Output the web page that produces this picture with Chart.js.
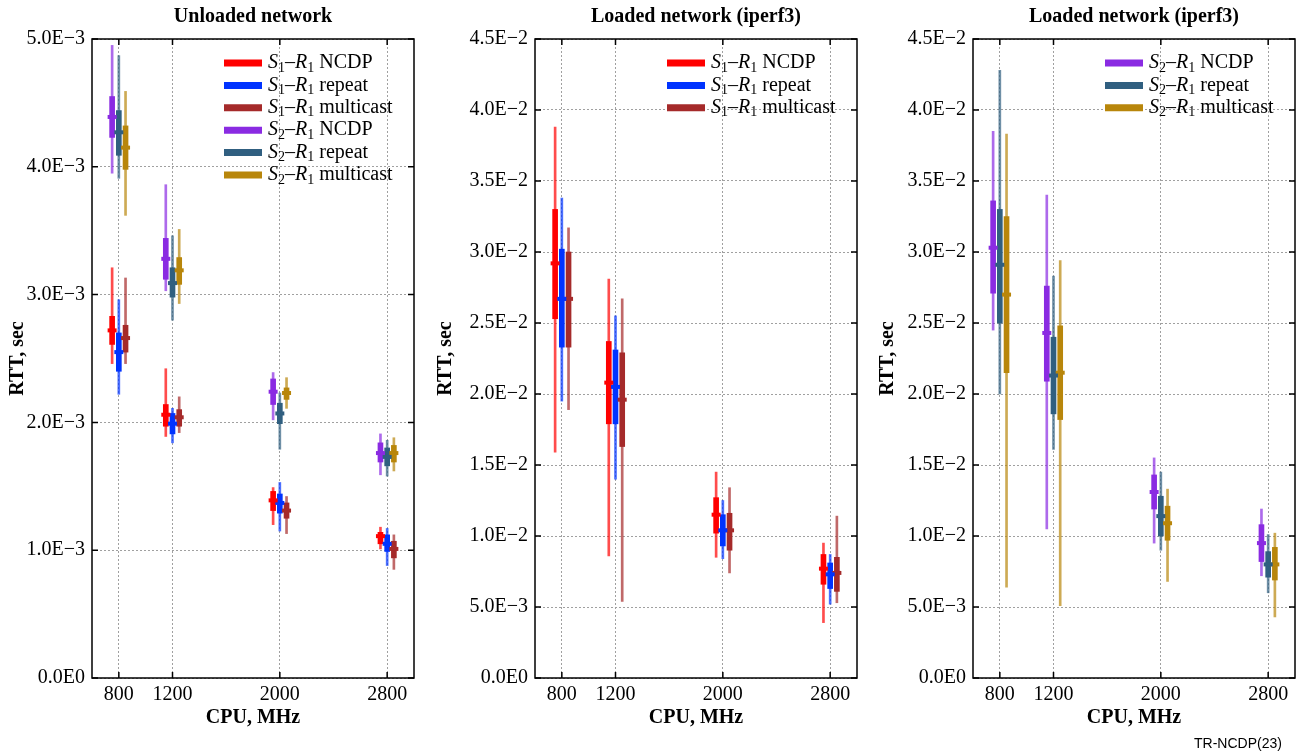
<!DOCTYPE html>
<html>
<head>
<meta charset="utf-8">
<title>RTT vs CPU</title>
<script src="https://cdn.jsdelivr.net/npm/chart.js@4.4.1/dist/chart.umd.min.js"></script>
<style>
body { margin: 0; background: #fff; width: 1309px; height: 755px; overflow: hidden; position: relative; }
.panel { position: absolute; top: 0; height: 755px; }
#note { position: absolute; left: 1194px; top: 735px; font: 14px "Liberation Sans", Arial, sans-serif; color: #000; }
</style>
</head>
<body>
<div class="panel" style="left:0;width:440px"><canvas id="c1"></canvas></div>
<div class="panel" style="left:428px;width:452px"><canvas id="c2"></canvas></div>
<div class="panel" style="left:870px;width:439px"><canvas id="c3"></canvas></div>
<div id="note">TR-NCDP(23)</div>
<script>
var cpu = [800, 1200, 2000, 2800];

// each row: [min, q1, median, q3, max] in sec, for 800 / 1200 / 2000 / 2800 MHz
// unloaded network
var unS1Ncdp = [[2.46e-3, 2.61e-3, 2.72e-3, 2.83e-3, 3.21e-3], [1.89e-3, 1.97e-3, 2.06e-3, 2.14e-3, 2.42e-3], [1.20e-3, 1.31e-3, 1.39e-3, 1.46e-3, 1.49e-3], [1.01e-3, 1.05e-3, 1.11e-3, 1.14e-3, 1.18e-3]];
var unS1Repeat = [[2.22e-3, 2.40e-3, 2.55e-3, 2.70e-3, 2.96e-3], [1.84e-3, 1.91e-3, 1.99e-3, 2.07e-3, 2.11e-3], [1.15e-3, 1.29e-3, 1.37e-3, 1.44e-3, 1.53e-3], [0.88e-3, 0.99e-3, 1.05e-3, 1.12e-3, 1.17e-3]];
var unS1Multicast = [[2.46e-3, 2.55e-3, 2.66e-3, 2.76e-3, 3.13e-3], [1.92e-3, 1.97e-3, 2.04e-3, 2.10e-3, 2.20e-3], [1.13e-3, 1.25e-3, 1.31e-3, 1.37e-3, 1.42e-3], [0.85e-3, 0.94e-3, 1.01e-3, 1.07e-3, 1.12e-3]];
var unS2Ncdp = [[3.95e-3, 4.23e-3, 4.39e-3, 4.55e-3, 4.95e-3], [3.03e-3, 3.12e-3, 3.28e-3, 3.44e-3, 3.86e-3], [2.02e-3, 2.14e-3, 2.24e-3, 2.34e-3, 2.39e-3], [1.59e-3, 1.69e-3, 1.76e-3, 1.84e-3, 1.91e-3]];
var unS2Repeat = [[3.91e-3, 4.09e-3, 4.27e-3, 4.44e-3, 4.87e-3], [2.80e-3, 2.98e-3, 3.09e-3, 3.21e-3, 3.46e-3], [1.79e-3, 1.99e-3, 2.07e-3, 2.15e-3, 2.23e-3], [1.58e-3, 1.66e-3, 1.73e-3, 1.80e-3, 1.86e-3]];
var unS2Multicast = [[3.62e-3, 3.98e-3, 4.15e-3, 4.32e-3, 4.59e-3], [2.93e-3, 3.08e-3, 3.19e-3, 3.29e-3, 3.51e-3], [2.11e-3, 2.18e-3, 2.23e-3, 2.27e-3, 2.35e-3], [1.62e-3, 1.69e-3, 1.76e-3, 1.82e-3, 1.88e-3]];
// loaded network (iperf3)
var ldS1Ncdp = [[1.59e-2, 2.53e-2, 2.92e-2, 3.30e-2, 3.88e-2], [0.86e-2, 1.79e-2, 2.08e-2, 2.37e-2, 2.81e-2], [0.85e-2, 1.02e-2, 1.15e-2, 1.27e-2, 1.45e-2], [0.39e-2, 0.66e-2, 0.77e-2, 0.87e-2, 0.95e-2]];
var ldS1Repeat = [[1.95e-2, 2.33e-2, 2.67e-2, 3.02e-2, 3.38e-2], [1.40e-2, 1.79e-2, 2.05e-2, 2.31e-2, 2.55e-2], [0.84e-2, 0.93e-2, 1.04e-2, 1.15e-2, 1.25e-2], [0.52e-2, 0.63e-2, 0.73e-2, 0.81e-2, 0.87e-2]];
var ldS1Multicast = [[1.89e-2, 2.33e-2, 2.67e-2, 3.00e-2, 3.17e-2], [0.54e-2, 1.63e-2, 1.96e-2, 2.29e-2, 2.67e-2], [0.74e-2, 0.90e-2, 1.04e-2, 1.16e-2, 1.34e-2], [0.53e-2, 0.61e-2, 0.74e-2, 0.85e-2, 1.14e-2]];
var ldS2Ncdp = [[2.45e-2, 2.71e-2, 3.03e-2, 3.36e-2, 3.85e-2], [1.05e-2, 2.09e-2, 2.43e-2, 2.76e-2, 3.40e-2], [0.95e-2, 1.19e-2, 1.31e-2, 1.43e-2, 1.55e-2], [0.72e-2, 0.82e-2, 0.95e-2, 1.08e-2, 1.19e-2]];
var ldS2Repeat = [[2.00e-2, 2.50e-2, 2.91e-2, 3.30e-2, 4.28e-2], [1.61e-2, 1.86e-2, 2.13e-2, 2.40e-2, 2.83e-2], [0.90e-2, 1.00e-2, 1.14e-2, 1.28e-2, 1.45e-2], [0.60e-2, 0.71e-2, 0.80e-2, 0.89e-2, 1.01e-2]];
var ldS2Multicast = [[0.64e-2, 2.15e-2, 2.70e-2, 3.25e-2, 3.83e-2], [0.51e-2, 1.82e-2, 2.15e-2, 2.48e-2, 2.94e-2], [0.68e-2, 0.97e-2, 1.09e-2, 1.21e-2, 1.33e-2], [0.43e-2, 0.69e-2, 0.80e-2, 0.92e-2, 1.02e-2]];

Chart.defaults.font.family = '"Liberation Serif", "Times New Roman", serif';
Chart.defaults.color = '#000';

var RED = '#ff0000', BLUE = '#0033ff', BROWN = '#a52a2a';
var PURPLE = '#8a2be2', SLATE = '#305f80', GOLD = '#b8860b';

function fade(hex, a) {
    var n = parseInt(hex.slice(1), 16);
    return 'rgba(' + (n >> 16) + ',' + ((n >> 8) & 255) + ',' + (n & 255) + ',' + a + ')';
}

function sciTick(v) {
    return v.toExponential(1).replace('e', 'E').replace('+', '').replace('-', '\u2212');
}

// S_x–R_1 label with italic letters and subscripts
function drawLabel(ctx, x, y, s) {
    var parts = [['S', 'italic 20px', 0], [s.src, '14px', 5], ['\u2013', '20px', 0],
                 ['R', 'italic 20px', 0], ['1', '14px', 5], [' ' + s.kind, '20px', 0]];
    parts.forEach(function (p) {
        ctx.font = p[1] + ' "Liberation Serif"';
        ctx.fillText(p[0], x, y + p[2]);
        x += ctx.measureText(p[0]).width;
    });
}

function makeDecor(title, series) {
    return {
        id: 'decor',
        afterDraw: function (chart) {
            var ctx = chart.ctx, a = chart.chartArea, sx = chart.scales.x, sy = chart.scales.y;
            ctx.save();
            ctx.strokeStyle = '#000';
            ctx.lineWidth = 1.5;
            ctx.strokeRect(a.left, a.top, a.right - a.left, a.bottom - a.top);
            ctx.beginPath();
            sy.ticks.forEach(function (t) {
                var y = sy.getPixelForValue(t.value);
                ctx.moveTo(a.left, y); ctx.lineTo(a.left + 6, y);
                ctx.moveTo(a.right, y); ctx.lineTo(a.right - 6, y);
            });
            sx.ticks.forEach(function (t) {
                var x = sx.getPixelForValue(t.value);
                ctx.moveTo(x, a.bottom); ctx.lineTo(x, a.bottom - 6);
                ctx.moveTo(x, a.top); ctx.lineTo(x, a.top + 6);
            });
            ctx.stroke();

            ctx.fillStyle = '#000';
            ctx.font = 'bold 20px "Liberation Serif"';
            ctx.textAlign = 'center';
            ctx.textBaseline = 'middle';
            ctx.fillText(title, (a.left + a.right) / 2, 17);

            // legend
            ctx.textAlign = 'left';
            var lx = a.right - 190;
            series.forEach(function (s, i) {
                var y = a.top + 24 + i * 22.4;
                ctx.strokeStyle = s.color;
                ctx.lineWidth = 7;
                ctx.beginPath();
                ctx.moveTo(lx, y); ctx.lineTo(lx + 38, y);
                ctx.stroke();
                ctx.fillStyle = '#000';
                drawLabel(ctx, lx + 44, y, s);
            });
            ctx.restore();
        }
    };
}

function makeChart(id, title, series, yMax, yStep, padRight, yWidth) {
    var datasets = [];
    series.forEach(function (s) {
        datasets.push({
            type: 'bar', order: 3, grouped: false, barThickness: 2,
            backgroundColor: fade(s.color, 0.7),
            data: s.rows.map(function (r, i) { return { x: cpu[i] + s.shift, y: [r[0], r[4]] }; })
        });
        datasets.push({
            type: 'bar', order: 2, grouped: false, barThickness: 5,
            backgroundColor: s.color,
            data: s.rows.map(function (r, i) { return { x: cpu[i] + s.shift, y: [r[1], r[3]] }; })
        });
        datasets.push({
            type: 'scatter', order: 1, pointStyle: 'line', pointRadius: 4.5,
            borderColor: s.color, borderWidth: 4,
            data: s.rows.map(function (r, i) { return { x: cpu[i] + s.shift, y: r[2] }; })
        });
    });

    return new Chart(document.getElementById(id), {
        type: 'bar',
        data: { datasets: datasets },
        options: {
            responsive: true,
            maintainAspectRatio: false,
            animation: false,
            events: [],
            layout: { padding: { top: 39, right: padRight, bottom: 21, left: 0 } },
            plugins: { legend: { display: false }, tooltip: { enabled: false } },
            scales: {
                x: {
                    type: 'linear', min: 600, max: 3000, offset: false,
                    afterBuildTicks: function (sc) { sc.ticks = cpu.map(function (v) { return { value: v }; }); },
                    afterFit: function (sc) { sc.height = 56; },
                    grid: { color: '#a0a0a0', lineWidth: 1, drawTicks: false, offset: false },
                    border: { display: false, dash: [2, 2] },
                    ticks: { autoSkip: false, maxRotation: 0, padding: 5, font: { size: 20 }, callback: function (v) { return String(v); } },
                    title: { display: true, text: 'CPU, MHz', font: { size: 20, weight: 'bold' }, padding: { top: 0, bottom: 4 } }
                },
                y: {
                    min: 0, max: yMax,
                    afterFit: function (sc) { sc.width = yWidth; },
                    grid: { color: '#a0a0a0', lineWidth: 1, drawTicks: false },
                    border: { display: false, dash: [2, 2] },
                    ticks: { stepSize: yStep, padding: 7, font: { size: 20 }, callback: sciTick },
                    title: { display: true, text: 'RTT, sec', font: { size: 20, weight: 'bold' }, padding: { top: 6, bottom: 0 } }
                }
            }
        },
        plugins: [makeDecor(title, series)]
    });
}

makeChart('c1', 'Unloaded network', [
    { src: '1', kind: 'NCDP', rows: unS1Ncdp, color: RED, shift: -50 },
    { src: '1', kind: 'repeat', rows: unS1Repeat, color: BLUE, shift: 0 },
    { src: '1', kind: 'multicast', rows: unS1Multicast, color: BROWN, shift: 50 },
    { src: '2', kind: 'NCDP', rows: unS2Ncdp, color: PURPLE, shift: -50 },
    { src: '2', kind: 'repeat', rows: unS2Repeat, color: SLATE, shift: 0 },
    { src: '2', kind: 'multicast', rows: unS2Multicast, color: GOLD, shift: 50 }
], 0.005, 0.001, 26, 92);

makeChart('c2', 'Loaded network (iperf3)', [
    { src: '1', kind: 'NCDP', rows: ldS1Ncdp, color: RED, shift: -50 },
    { src: '1', kind: 'repeat', rows: ldS1Repeat, color: BLUE, shift: 0 },
    { src: '1', kind: 'multicast', rows: ldS1Multicast, color: BROWN, shift: 50 }
], 0.045, 0.005, 23, 107);

makeChart('c3', 'Loaded network (iperf3)', [
    { src: '2', kind: 'NCDP', rows: ldS2Ncdp, color: PURPLE, shift: -50 },
    { src: '2', kind: 'repeat', rows: ldS2Repeat, color: SLATE, shift: 0 },
    { src: '2', kind: 'multicast', rows: ldS2Multicast, color: GOLD, shift: 50 }
], 0.045, 0.005, 14, 103);
</script>
</body>
</html>
